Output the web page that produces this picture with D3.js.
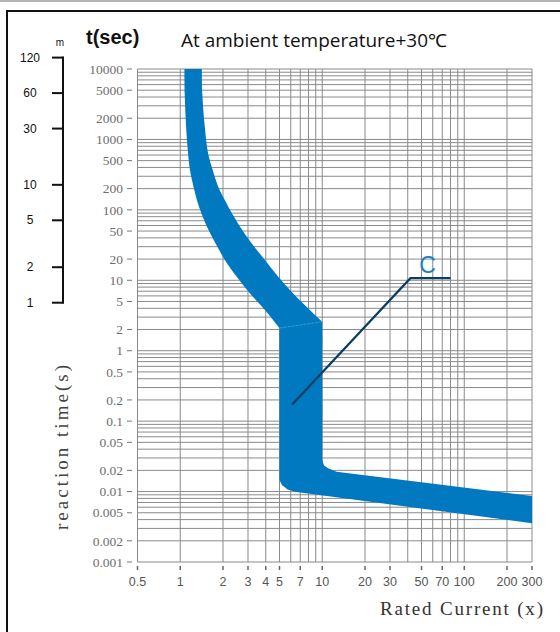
<!DOCTYPE html>
<html><head><meta charset="utf-8">
<script src="https://cdn.jsdelivr.net/npm/d3@7"></script>
<style>body{margin:0;background:#fff}svg{display:block}</style>
</head><body>
<svg id="chart" width="560" height="632"></svg>
<script>
// ---- data ----
const xTickValues = [0.5,1,2,3,4,5,7,10,20,30,50,70,100,200,300];
const xGridValues = [1,2,3,4,5,6,7,8,9,10,20,30,40,50,60,70,80,90,100,200,300];
const yTickValues = [10000,5000,2000,1000,500,200,100,50,20,10,5,2,1,0.5,0.2,0.1,0.05,0.02,0.01,0.005,0.002,0.001];
const minuteTicks = [120,60,30,10,5,2,1];
// thermal band, high-current edge (current multiple, seconds)
const thermalUpper = [[1.42,10000],[1.43,4500],[1.49,1500],[1.57,635],[1.69,370],[1.85,213],[2.06,138],[2.24,100],[2.63,58],[3.18,33.5],[3.95,19.4],[4.9,11.2],[6.24,6.5],[8.18,3.8],[10,2.58]];
// thermal band, low-current edge
const thermalLower = [[1.07,10000],[1.075,4500],[1.10,1500],[1.13,700],[1.17,370],[1.24,213],[1.31,138],[1.38,100],[1.54,58],[1.77,33.5],[2.06,19.4],[2.5,11.2],[3.1,6.5],[3.95,3.8],[5,2.1]];
// instantaneous band
const instantUpper = [[10,2.58],[10,0.028],[10.3,0.0235],[11,0.0214],[12.6,0.0191],[300,0.00865]];
const instantLower = [[300,0.00355],[6.42,0.00995],[5.7,0.0107],[5.2,0.0124],[5,0.0146],[5,2.1]];
const curveC = [[6.14,0.173],[41.8,10.7],[80,10.7]];

// ---- scales ----
const svg = d3.select('#chart');
const x = d3.scaleLog().domain([0.5,300]).range([137.5,532]);
const y = d3.scaleLog().domain([0.001,10000]).range([562,69]);
const m = d3.scaleLog().domain([1,120]).range([302.7,57.6]);

// frame
svg.append('line').attr('x1',0).attr('x2',560).attr('y1',1).attr('y2',1).attr('stroke','#9a9a9a').attr('stroke-width',1.5);
svg.append('path').attr('d','M7,632V11H560').attr('fill','none').attr('stroke','#111').attr('stroke-width',2);

// grid
const yGrid = [];
for (let e=-3;e<4;e++) for (let k=1;k<10;k++) yGrid.push(k*Math.pow(10,e));
yGrid.push(10000);
const grid = svg.append('g').attr('stroke','#8a8a8a').attr('stroke-width',1);
grid.selectAll('line.h').data(yGrid).join('line').attr('class','h')
  .attr('x1',x(0.5)).attr('x2',x(300)).attr('y1',d=>y(d)).attr('y2',d=>y(d));
grid.selectAll('line.v').data([0.5].concat(xGridValues)).join('line').attr('class','v')
  .attr('y1',y(0.001)).attr('y2',y(10000)).attr('x1',d=>x(d)).attr('x2',d=>x(d));

// y ticks
const yAx = svg.append('g');
yAx.selectAll('line').data(yTickValues).join('line')
  .attr('x1',127).attr('x2',132).attr('y1',d=>y(d)).attr('y2',d=>y(d))
  .attr('stroke','#777').attr('stroke-width',1);
yAx.selectAll('text').data(yTickValues).join('text')
  .attr('x',123).attr('y',d=>y(d)).attr('dy','0.35em').attr('text-anchor','end')
  .attr('font-family','Liberation Serif').attr('font-size',13.5).attr('fill','#6e6e6e')
  .text(d=>String(d));

// x ticks
const xAx = svg.append('g');
xAx.selectAll('line').data(xTickValues).join('line')
  .attr('x1',d=>x(d)).attr('x2',d=>x(d)).attr('y1',566).attr('y2',570)
  .attr('stroke','#666').attr('stroke-width',1.5);
xAx.selectAll('text').data(xTickValues).join('text')
  .attr('x',d=>x(d)).attr('y',586).attr('text-anchor','middle')
  .attr('font-family','Liberation Sans').attr('font-size',12.5).attr('fill','#555')
  .text(d=>String(d));

// band
const lin = d3.line().x(d=>x(d[0])).y(d=>y(d[1]));
const crv = d3.line().x(d=>x(d[0])).y(d=>y(d[1])).curve(d3.curveCatmullRom);
const dBand = crv(thermalUpper) + lin(instantUpper).replace(/^M/,'L') + lin(instantLower).replace(/^M/,'L') + crv(thermalLower.slice().reverse()).replace(/^M/,'L') + 'Z';
svg.append('path').attr('d',dBand).attr('fill','#0079c1');
svg.append('path').attr('d',lin([thermalLower[thermalLower.length-1],thermalUpper[thermalUpper.length-1]]))
  .attr('stroke','#4a9ed6').attr('stroke-width',0.8).attr('stroke-dasharray','3,1').attr('fill','none');

// curve C marker
svg.append('path').attr('d',lin(curveC)).attr('fill','none').attr('stroke','#0b3d63').attr('stroke-width',2.2);
svg.append('text').attr('x',x(curveC[1][0])+17).attr('y',y(curveC[1][1])-5).attr('text-anchor','middle')
  .attr('font-family','Liberation Sans').attr('font-size',23).attr('fill','#1a80c4').text('C');

// minutes axis
const mAx = svg.append('g');
mAx.append('line').attr('x1',63).attr('x2',63).attr('y1',m(120)-1).attr('y2',m(1)+1).attr('stroke','#111').attr('stroke-width',2);
mAx.selectAll('line.t').data(minuteTicks).join('line').attr('class','t')
  .attr('x1',52).attr('x2',63).attr('y1',d=>m(d)).attr('y2',d=>m(d)).attr('stroke','#111').attr('stroke-width',2);
mAx.selectAll('text').data(minuteTicks).join('text')
  .attr('x',30).attr('y',d=>m(d)+4).attr('text-anchor','middle')
  .attr('font-family','Liberation Sans').attr('font-size',12).attr('fill','#111').text(d=>String(d));
svg.append('text').attr('x',60).attr('y',46).attr('text-anchor','middle')
  .attr('font-family','Liberation Sans').attr('font-size',10).attr('fill','#111').text('m');

// titles
svg.append('text').attr('x',86).attr('y',44).attr('font-family','Liberation Sans').attr('font-weight','bold')
  .attr('font-size',20).attr('fill','#111').text('t(sec)');
svg.append('text').attr('x',181).attr('y',47).attr('font-family','Open Sans').attr('font-size',18)
  .attr('textLength',266).attr('lengthAdjust','spacingAndGlyphs').attr('fill','#111').text('At ambient temperature+30℃');
svg.append('text').attr('transform','translate(68,447.5) rotate(-90)').attr('text-anchor','middle')
  .attr('font-family','Liberation Serif').attr('font-size',19).attr('textLength',165).attr('lengthAdjust','spacing')
  .attr('fill','#444').text('reaction time(s)');
svg.append('text').attr('x',380).attr('y',615)
  .attr('font-family','Liberation Serif').attr('font-size',19).attr('textLength',163).attr('lengthAdjust','spacing')
  .attr('fill','#333').text('Rated Current (x)');
</script>
</body></html>
